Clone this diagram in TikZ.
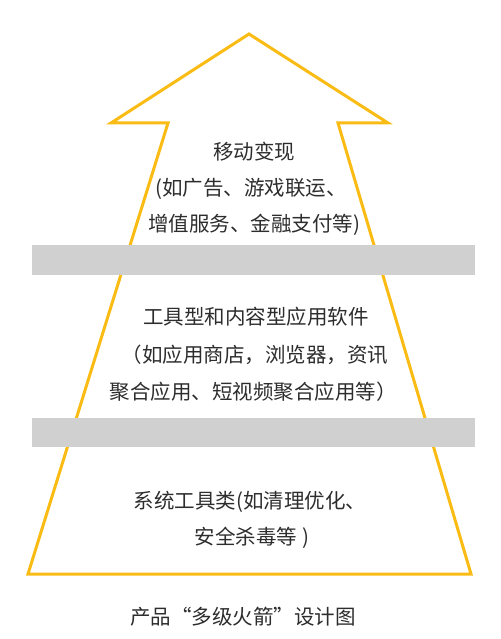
\documentclass[tikz,border=0pt]{standalone}
\usepackage{fontspec}
\setmainfont{Noto Sans CJK SC}
\usepackage{xcolor}
\definecolor{rocket}{RGB}{250,188,20}
\definecolor{stage}{RGB}{208,208,208}
\definecolor{txt}{RGB}{45,45,45}

\begin{document}
\begin{tikzpicture}[x=1pt, y=-1pt,
    label/.style={txt, font=\fontsize{20.5}{24}\selectfont, inner sep=0pt, anchor=center}]

\useasboundingbox (0,0) rectangle (500,639);

% outline of the rocket
\draw[rocket, line width=3pt, line join=miter]
  (28,574) -- (168,123) -- (111,123) -- (249,34) -- (388,123)
  -- (338,123) -- (471,574) -- cycle;

% stage separators
\foreach \top/\bot in {245/275, 418/447}{
  \fill[stage] (32,\top) rectangle (475,\bot);
}

% top stage
\node[label] (top1) at (254,152) {移动变现};
\node[label] (top2) at (251,189) {(如广告、游戏联运、};
\node[label] (top3) at (254,225) {增值服务、金融支付等)};

% middle stage
\node[label] (mid1) at (256,317) {工具型和内容型应用软件};
\node[label] (mid2) at (255,355) {（如应用商店，浏览器，资讯};
\node[label] (mid3) at (253,392) {聚合应用、短视频聚合应用等）};

% bottom stage
\node[label] (low1) at (250,502) {系统工具类(如清理优化、};
\node[label] (low2) at (252,538) {安全杀毒等 )};

% caption
\node[label] (cap) at (243,617) {产品“多级火箭”设计图};

\end{tikzpicture}
\end{document}
